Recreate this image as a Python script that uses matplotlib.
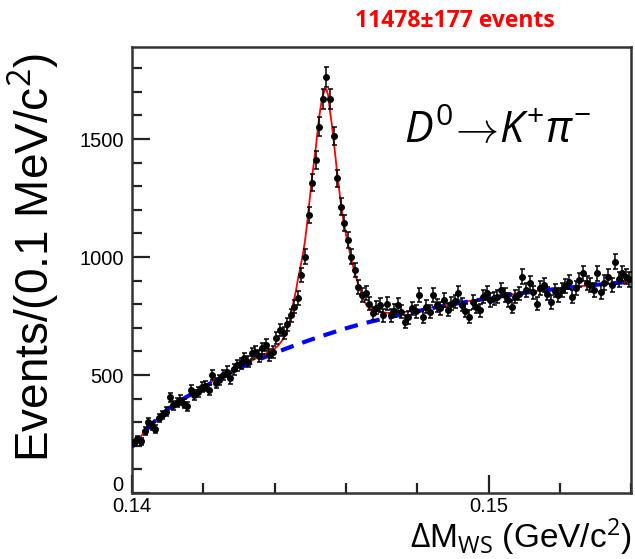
import numpy as np
import matplotlib.pyplot as plt
from matplotlib.ticker import MultipleLocator
from matplotlib.transforms import ScaledTranslation

# bin centres (0.1 MeV bins) and counts
bin_lo = 0.14
bin_w = 0.0001
counts = [
    212, 228, 220, 262, 300, 285, 272, 318, 330, 344,
    405, 372, 383, 395, 378, 368, 436, 415, 429, 450,
    455, 436, 500, 465, 478, 500, 514, 486, 525, 542,
    549, 571, 556, 592, 599, 580, 613, 627, 585, 598,
    656, 691, 677, 715, 754, 789, 826, 924, 1002, 1178,
    1315, 1411, 1552, 1669, 1764, 1669, 1513, 1333, 1214, 1144,
    1072, 1002, 945, 874, 839, 846, 803, 761, 785, 797,
    754, 803, 754, 772, 797, 768, 726, 745, 782, 770,
    839, 747, 790, 768, 839, 795, 782, 818, 776, 803,
    812, 846, 798, 772, 747, 810, 789, 775, 832, 846,
    818, 825, 832, 860, 840, 818, 789, 832, 845, 917,
    860, 888, 850, 803, 868, 882, 845, 810, 858, 839,
    860, 876, 895, 832, 870, 902, 931, 888, 881, 860,
    931, 853, 892, 917, 880, 980, 905, 931, 917, 905,
]

# total fit (red)
fit_x = [0.1400, 0.1405, 0.1410, 0.1415, 0.1420, 0.1425, 0.1430, 0.1435, 0.1438,
         0.1440, 0.1441, 0.1442, 0.1443, 0.1444, 0.14447, 0.1445, 0.14455, 0.1446,
         0.14465, 0.1447, 0.14475, 0.1448, 0.14485, 0.1449, 0.14495, 0.1450,
         0.14505, 0.1451, 0.14515, 0.1452, 0.14525, 0.1453, 0.14535, 0.1454,
         0.14545, 0.1455, 0.14555, 0.1456, 0.14565, 0.1457, 0.14575, 0.1458,
         0.14585, 0.1459, 0.14595, 0.1460, 0.14605, 0.1461, 0.14615, 0.1462,
         0.14625, 0.1463, 0.14635, 0.1464, 0.14645, 0.1465, 0.14655, 0.1466,
         0.1467, 0.1468, 0.1469, 0.1470, 0.1472, 0.1474, 0.1476, 0.1480, 0.1485,
         0.1490, 0.1495, 0.1500, 0.1505, 0.1510, 0.1515, 0.1520, 0.1525, 0.1530,
         0.1535, 0.1540]
fit_y = [195, 286, 357, 408, 451, 494, 534, 572, 595,
         612, 625, 645, 672, 715, 765, 790, 825, 860,
         905, 940, 980, 1020, 1068, 1130, 1200, 1270,
         1340, 1400, 1460, 1530, 1595, 1645, 1685, 1706,
         1712, 1685, 1620, 1565, 1500, 1430, 1360, 1295,
         1235, 1180, 1135, 1095, 1060, 1025, 990, 960,
         930, 905, 880, 858, 840, 820, 802, 790,
         780, 774, 769, 766, 763, 763, 766, 775, 789,
         802, 815, 826, 838, 849, 859, 867, 875, 883,
         889, 895]

# background (blue dashed)
bkg_x = [0.1400, 0.1405, 0.1410, 0.1415, 0.1420, 0.1425, 0.1430, 0.1435, 0.1440,
         0.1445, 0.1450, 0.1455, 0.1460, 0.1465, 0.1470, 0.1475, 0.1480, 0.1485,
         0.1490, 0.1495, 0.1500, 0.1505, 0.1510, 0.1515, 0.1520, 0.1525, 0.1530,
         0.1535, 0.1540]
bkg_y = [195, 285, 355, 405, 448, 490, 528, 562, 594,
         622, 649, 674, 698, 719, 737, 754, 770, 786,
         800, 813, 825, 837, 848, 858, 866, 874, 882,
         889, 895]

x = bin_lo + bin_w * (np.arange(len(counts)) + 0.5)
y = np.array(counts)
err = np.sqrt(y)

plt.rcParams['mathtext.fontset'] = 'custom'
plt.rcParams['mathtext.rm'] = 'Open Sans'
plt.rcParams['mathtext.it'] = 'Open Sans:italic'

fig = plt.figure(figsize=(6.35, 5.59), dpi=100)
ax = fig.add_axes([0.208, 0.118, 0.786, 0.798])

ax.plot(fit_x, fit_y, color='#ff0000', lw=1.3, zorder=2)
ax.plot(bkg_x, bkg_y, color='#0000ff', lw=3, ls=(0, (3.2, 2.2)), zorder=3)
ax.errorbar(x, y, yerr=err, fmt='o', color='black', ms=4.0, elinewidth=1.1,
            capsize=1.8, capthick=1.1, zorder=4)

ax.set_xlim(0.14, 0.154)
ax.set_ylim(0, 1890)
ax.set_xticks([0.14, 0.15])
ax.set_xticklabels(['0.14', '0.15'])
ax.xaxis.set_minor_locator(MultipleLocator(0.002))
ax.set_yticks([0, 500, 1000, 1500])
ax.yaxis.set_minor_locator(MultipleLocator(100))

ax.tick_params(which='both', direction='in', top=False, right=False,
               labelsize=14.5, width=1.6, color='#222222')
ax.tick_params(which='major', length=13)
ax.tick_params(which='minor', length=7)
ax.tick_params(axis='y', pad=6)
ax.tick_params(axis='x', pad=2.5)
for s in ax.spines.values():
    s.set_linewidth(1.8)
    s.set_color('#333333')

for lab in ax.get_xticklabels() + ax.get_yticklabels():
    lab.set_family('Liberation Sans')

# lift the "0" a little so it sits just above "0.14"
zero = ax.yaxis.get_major_ticks()[0].label1
zero.set_transform(zero.get_transform() +
                   ScaledTranslation(0, 7 / 72, fig.dpi_scale_trans))

ax.set_ylabel('Events/(0.1 MeV/c$^2$)', fontsize=33, family='Liberation Sans')
ax.yaxis.set_label_coords(-0.142, 0.529)
ax.set_xlabel(r'$\Delta$M$_{\rm WS}$ (GeV/c$^2$)', fontsize=24,
              family='Liberation Sans')
ax.xaxis.set_label_coords(1.0, -0.1435)
ax.xaxis.label.set_horizontalalignment('right')
ax.xaxis.label.set_verticalalignment('bottom')

fig.text(0.717, 0.962, '11478±177 events', color='#ff0000', fontsize=16.5,
         fontweight='bold', family='Open Sans', ha='center', va='center')
fig.text(0.637, 0.768, r'$D^{0}\!\rightarrow\! K^{+}\pi^{-}$', fontsize=31,
         ha='left', va='center')

plt.savefig('out.png', dpi=100)
